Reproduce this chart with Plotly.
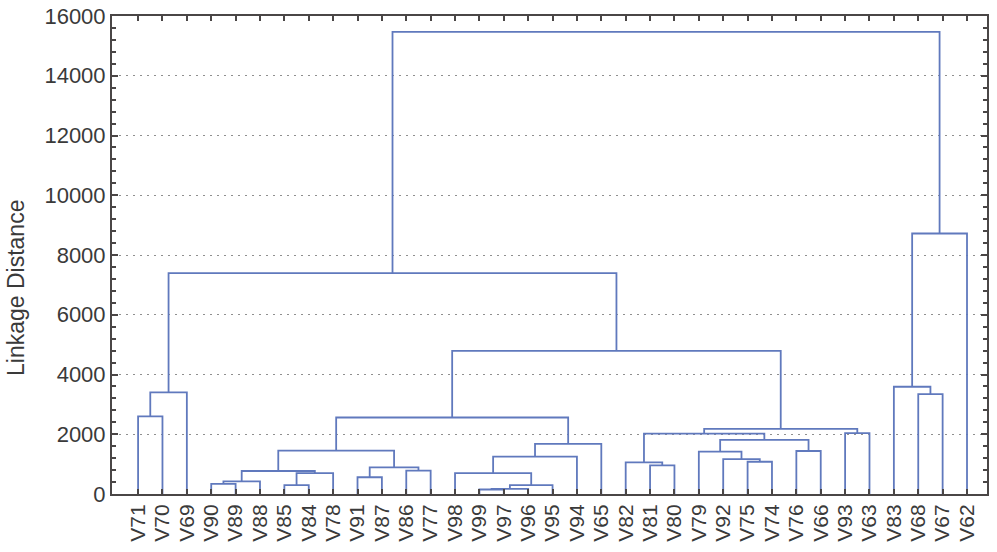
import plotly.graph_objects as go

# ---------------- data ----------------
leaf_labels = ["V71", "V70", "V69", "V90", "V89", "V88", "V85", "V84", "V78", "V91",
               "V87", "V86", "V77", "V98", "V99", "V97", "V96", "V95", "V94", "V65",
               "V82", "V81", "V80", "V79", "V92", "V75", "V74", "V76", "V66", "V93",
               "V63", "V83", "V68", "V67", "V62"]

# merges: cluster "C{k}" is formed by merge k
merge_left = ["V71", "C0", "V90", "C2", "V85", "C4", "C3", "V91", "V86", "C7",
              "C6", "V99", "C11", "C12", "V98", "C14", "C15", "C10", "V81", "V82",
              "V75", "V92", "V79", "V76", "C22", "C19", "V93", "C25", "C17", "C1",
              "V68", "V83", "C31", "C29"]
merge_right = ["V70", "V69", "V89", "V88", "V84", "V78", "C5", "V87", "V77", "C8",
               "C9", "V97", "V96", "V95", "C13", "V94", "V65", "C16", "V80", "C18",
               "V74", "C20", "C21", "V66", "C23", "C24", "V63", "C26", "C27", "C28",
               "V67", "C30", "V62", "C32"]
merge_height = [2600, 3400, 340, 420, 300, 700, 770, 560, 780, 890,
                1450, 150, 170, 300, 700, 1250, 1680, 2560, 960, 1060,
                1080, 1170, 1420, 1440, 1810, 2020, 2040, 2180, 4790, 7390,
                3340, 3590, 8720, 15470]

y_tick_values = [0, 2000, 4000, 6000, 8000, 10000, 12000, 14000, 16000]
y_axis_title = "Linkage Distance"

# ---------------- build dendrogram segments ----------------
node_x = {name: i for i, name in enumerate(leaf_labels)}
node_y = {name: 0 for name in leaf_labels}
xs, ys = [], []
for k, (a, b, h) in enumerate(zip(merge_left, merge_right, merge_height)):
    xa, ya, xb, yb = node_x[a], node_y[a], node_x[b], node_y[b]
    xs += [xa, xa, xb, xb, None]
    ys += [ya, h, h, yb, None]
    node_x[f"C{k}"] = (xa + xb) / 2
    node_y[f"C{k}"] = h

line_col = "#6079bd"
axis_col = "#4a4646"
text_col = "#3a3a3a"
font_fam = "Liberation Sans, Arial, sans-serif"

fig = go.Figure(go.Scatter(x=xs, y=ys, mode="lines",
                           line=dict(color=line_col, width=1.8),
                           hoverinfo="skip", showlegend=False))

fig.update_layout(
    width=997, height=552,
    margin=dict(l=112, r=10, t=16, b=58),
    paper_bgcolor="white", plot_bgcolor="white",
    font=dict(family=font_fam, color=text_col, size=21),
    xaxis=dict(range=[-1.07, 34.82], tickmode="array",
               tickvals=list(range(len(leaf_labels))), ticktext=leaf_labels,
               tickangle=-90, ticks="inside", ticklen=5, tickcolor=axis_col,
               tickwidth=2, showline=True, linecolor=axis_col, linewidth=2,
               mirror="ticks", showgrid=False, zeroline=False, automargin=False,
               ticklabeloverflow="allow",
               tickfont=dict(size=21, color=text_col)),
    yaxis=dict(range=[0, 16000], tickmode="array", tickvals=y_tick_values,
               ticktext=[str(v) for v in y_tick_values],
               ticks="inside", ticklen=6, tickwidth=2, tickcolor=axis_col,
               minor=dict(dtick=400, ticks="inside", ticklen=4, tickcolor=axis_col,
                          showgrid=False),
               showline=True, linecolor=axis_col, linewidth=2, mirror="ticks",
               showgrid=True, gridcolor="#8f8f8f", griddash="2px,5px", gridwidth=1.3,
               zeroline=False, automargin=False, ticklabeloverflow="allow",
               tickfont=dict(size=22, color=text_col)),
    annotations=[dict(text=y_axis_title, textangle=-90, xref="paper", yref="paper",
                      x=-0.1097, y=0.431, xanchor="center", yanchor="middle",
                      showarrow=False, font=dict(size=23, color=text_col))],
)

fig.write_html("out.html",
               config={"displayModeBar": False},
               post_script="document.body.style.margin='0';")
